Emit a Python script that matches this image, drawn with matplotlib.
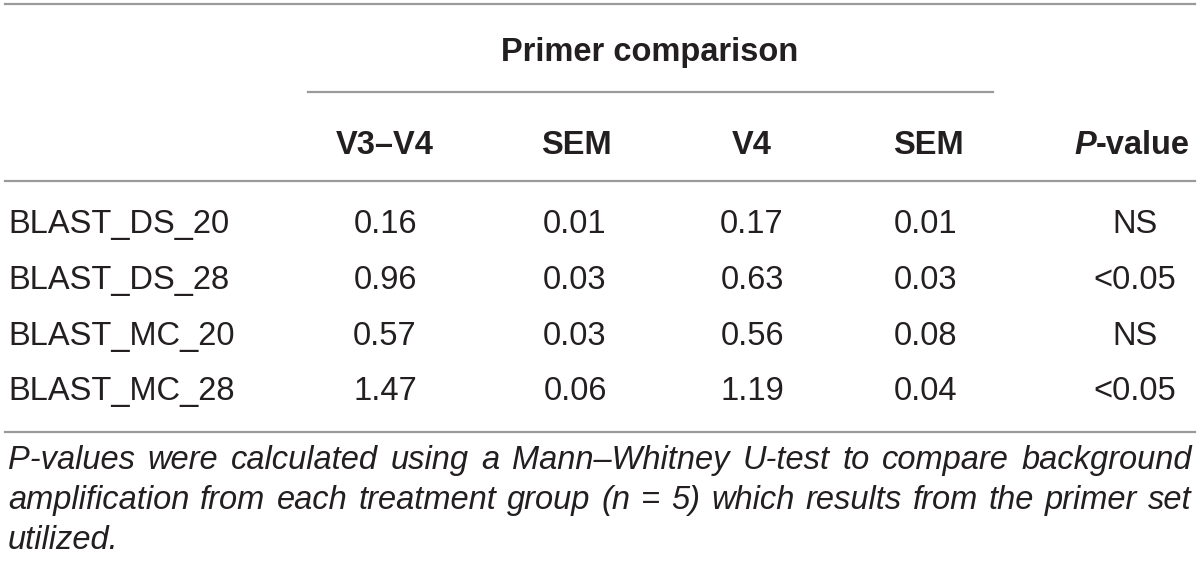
import matplotlib
matplotlib.use("Agg")
import matplotlib.pyplot as plt
from matplotlib.lines import Line2D

W, H = 1200, 562
FONT = "Liberation Sans"
FS = 23.5
LINE_C = "#9a9a9a"
TXT_C = "#231f20"

group_header = "Primer comparison"
col_headers = ["V3\u2013V4", "SEM", "V4", "SEM", "P-value"]
row_labels = ["BLAST_DS_20", "BLAST_DS_28", "BLAST_MC_20", "BLAST_MC_28"]
v3v4 = ["0.16", "0.96", "0.57", "1.47"]
sem1 = ["0.01", "0.03", "0.03", "0.06"]
v4 = ["0.17", "0.63", "0.56", "1.19"]
sem2 = ["0.01", "0.03", "0.08", "0.04"]
pvals = ["NS", "<0.05", "NS", "<0.05"]
footnote_lines = [
    "P-values were calculated using a Mann\u2013Whitney U-test to compare background",
    "amplification from each treatment group (n = 5) which results from the primer set",
    "utilized.",
]

fig = plt.figure(figsize=(W / 100, H / 100), dpi=100)
fig.patch.set_facecolor("white")

def fx(x):
    return x / W

def fy(y):
    return 1 - y / H

def hline(y, x0, x1, lw=1.6):
    fig.add_artist(Line2D([fx(x0), fx(x1)], [fy(y), fy(y)], color=LINE_C, lw=lw))

def txt(x, y, s, ha="center", weight="normal", style="normal"):
    return fig.text(fx(x), fy(y), s, ha=ha, va="center_baseline", fontsize=FS,
                    family=FONT, weight=weight, style=style, color=TXT_C)

# rules
hline(4, 5, 1195)
hline(92, 308, 993)
hline(181, 5, 1195)
hline(432, 5, 1195)

# header
txt(650, 49, group_header, weight="bold")
col_x = [385, 576, 752, 928, 1135]
HEAD_Y = 142
for i, h in enumerate(col_headers):
    if h == "P-value":
        t = fig.text(fx(1190), fy(HEAD_Y), "-value", ha="right", va="center_baseline",
                     fontsize=FS, family=FONT, weight="bold", color=TXT_C)
        fig.canvas.draw()
        bb = t.get_window_extent()
        fig.text(bb.x0 / W, fy(HEAD_Y), "P", ha="right", va="center_baseline",
                 fontsize=FS, family=FONT, weight="bold", style="italic", color=TXT_C)
    else:
        txt(col_x[i], HEAD_Y, h, weight="bold")

row_y = [221, 277, 333, 388]
data_x = [385, 575, 752, 926, 1135]
for r, lab in enumerate(row_labels):
    txt(8, row_y[r], lab, ha="left")
    for c, col in enumerate([v3v4, sem1, v4, sem2, pvals]):
        txt(data_x[c], row_y[r], col[r])

# footnote, justified
foot_y = [457, 497, 537]
fig.canvas.draw()
renderer = fig.canvas.get_renderer()
left, right = 8, 1192
probe = fig.text(0.5, 0.5, "a a", fontsize=FS, family=FONT, style="italic")
probe2 = fig.text(0.5, 0.5, "aa", fontsize=FS, family=FONT, style="italic")
space_w = probe.get_window_extent(renderer).width - probe2.get_window_extent(renderer).width
probe.remove()
probe2.remove()
for li, line in enumerate(footnote_lines):
    words = line.split(" ")
    arts = [fig.text(0, fy(foot_y[li]), w, ha="left", va="center_baseline", fontsize=FS,
                     family=FONT, style="italic", color=TXT_C) for w in words]
    widths = [a.get_window_extent(renderer).width for a in arts]
    if li < len(footnote_lines) - 1 and len(words) > 1:
        gap = (right - left - sum(widths)) / (len(words) - 1)
    else:
        gap = space_w
    x = left
    for a, w in zip(arts, widths):
        a.set_x(fx(x))
        x += w + gap

fig.savefig("out.png", dpi=100, facecolor="white")
